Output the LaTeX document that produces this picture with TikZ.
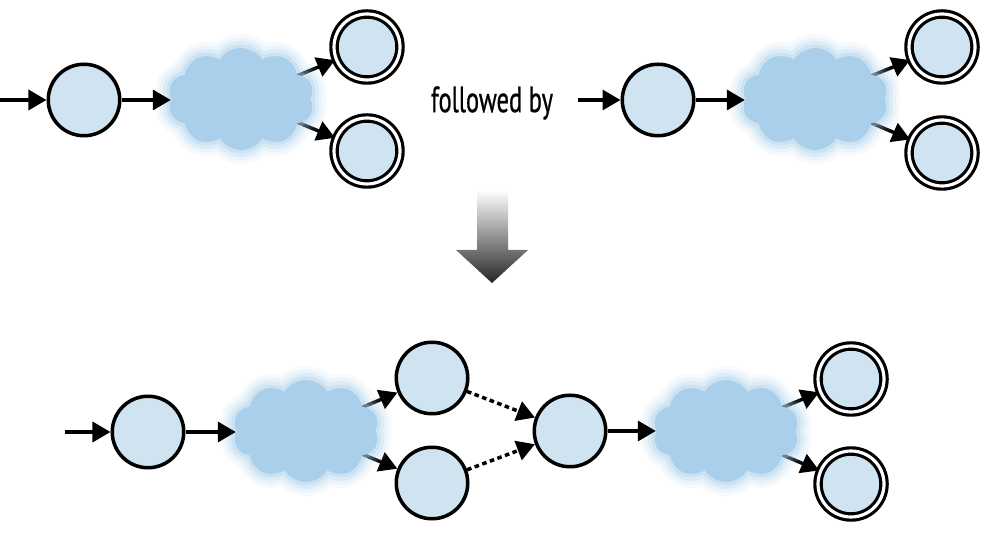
\documentclass[tikz,border=0pt]{standalone}
\usepackage{fontspec}
\setmainfont{PT Sans}
\newfontfamily\condsans{PT Sans}[FakeStretch=0.67,FakeBold=0.6]
\usetikzlibrary{arrows.meta,shapes.symbols,positioning,backgrounds}
\definecolor{statefill}{RGB}{207,227,241}
\definecolor{cloudfill}{RGB}{169,207,234}
\tikzset{tip/.style={-{Triangle[length=1.8mm,width=2mm]}, line width=1pt},
  dots/.style={tip, dash pattern=on 1.3pt off 1pt},
  leave/.style={tip, shorten <=-3.5mm},
  state/.style={circle, draw, line width=1pt, fill=statefill, minimum size=7.15mm, inner sep=0pt},
  accept/.style={state, double, line width=0.9pt, double distance=0.9pt, minimum size=6.6mm},
  blob/.style={cloud, cloud puffs=10, cloud puff arc=115, aspect=1.45, inner sep=0pt,
    minimum width=14.6mm, minimum height=10.2mm, fill=cloudfill}}

% fuzzy cloud: #1 name, #2 position
\newcommand{\fuzzcloud}[2]{%
  \foreach \w/\o in {8pt/0.1,6pt/0.15,4pt/0.22,2pt/0.35}
    \node[blob, fill=none, draw=cloudfill, line width=\w, draw opacity=\o] at #2 {};
  \node[blob] (#1) at #2 {};}

\begin{document}
\begin{tikzpicture}
  \useasboundingbox (0,0) rectangle (10,-5.41);
  % first machine
  \coordinate (in1) at (0,-1.0);
  \node[state] (q1) at (0.84,-1.0) {};
  \fuzzcloud{cl1}{(2.41,-0.99)}
  \node[accept] (f1) at (3.67,-0.47) {};
  \node[accept] (f2) at (3.67,-1.51) {};
  \draw[tip] (in1) -- (q1);
  \draw[tip] (q1) -- (q1 -| cl1.west);
  \begin{scope}[on background layer]
    \draw[leave] (cl1) -- (f1);
    \draw[leave] (cl1) -- (f2);
  \end{scope}
  \node[font=\condsans\fontsize{10.4}{12}\selectfont] (fb) at (4.92,-1.03) {followed by};
  % second machine
  \coordinate (in2) at (5.78,-1.0);
  \node[state] (q2) at (6.58,-1.0) {};
  \fuzzcloud{cl2}{(8.15,-0.99)}
  \node[accept] (f3) at (9.42,-0.47) {};
  \node[accept] (f4) at (9.42,-1.53) {};
  \draw[tip] (in2) -- (q2);
  \draw[tip] (q2) -- (q2 -| cl2.west);
  \begin{scope}[on background layer]
    \draw[leave] (cl2) -- (f3);
    \draw[leave] (cl2) -- (f4);
  \end{scope}
  % big arrow
  \shade[top color=white, middle color=black!70, bottom color=black!85]
    (4.77,-1.9) -- (5.08,-1.9) -- (5.08,-2.5) -- (5.28,-2.5) -- (4.92,-2.83)
    -- (4.56,-2.5) -- (4.77,-2.5) -- cycle;
  % combined machine
  \coordinate (in3) at (0.65,-4.32);
  \node[state] (q3) at (1.48,-4.32) {};
  \fuzzcloud{cl3}{(3.06,-4.31)}
  \node[state] (a) at (4.32,-3.78) {};
  \node[state] (b) at (4.32,-4.83) {};
  \node[state] (m) at (5.70,-4.31) {};
  \fuzzcloud{cl4}{(7.26,-4.31)}
  \node[accept] (f5) at (8.51,-3.79) {};
  \node[accept] (f6) at (8.51,-4.84) {};
  \draw[tip] (in3) -- (q3);
  \draw[tip] (q3) -- (q3 -| cl3.west);
  \draw[dots] (a) -- (m);
  \draw[dots] (b) -- (m);
  \draw[tip] (m) -- (m -| cl4.west);
  \begin{scope}[on background layer]
    \draw[leave] (cl3) -- (a);
    \draw[leave] (cl3) -- (b);
    \draw[leave] (cl4) -- (f5);
    \draw[leave] (cl4) -- (f6);
  \end{scope}
\end{tikzpicture}
\end{document}
